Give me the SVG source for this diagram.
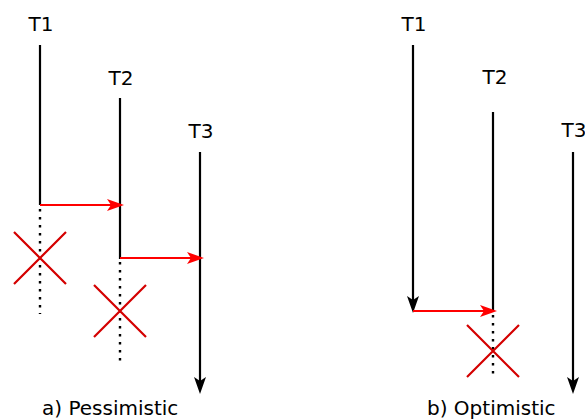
<svg xmlns="http://www.w3.org/2000/svg" width="585" height="420" viewBox="0 0 585 420">
<style>
text{font-family:"DejaVu Sans","Liberation Sans",sans-serif;font-size:20px;fill:#000}
.t{text-anchor:middle}
.life{stroke:#000;stroke-width:2.2;fill:none}
.dot{stroke:#000;stroke-width:2.4;stroke-dasharray:2.4,5.6;fill:none}
.msg{stroke:#f00;stroke-width:2.2;fill:none}
.x{stroke:#d40000;stroke-width:2.2;fill:none}
</style>
<defs>
<marker id="ab" markerUnits="userSpaceOnUse" markerWidth="20" markerHeight="14" viewBox="-8 -7 20 14" refX="0" refY="0" orient="auto"><path d="M10,0 L-7,-6 L-3,0 L-7,6 Z" fill="#000"/></marker>
<marker id="ar" markerUnits="userSpaceOnUse" markerWidth="20" markerHeight="14" viewBox="-8 -7 20 14" refX="0" refY="0" orient="auto"><path d="M10,0 L-7,-6 L-3,0 L-7,6 Z" fill="#f00"/></marker>
</defs>
<g id="pessimistic">
<g id="a-T1"><text class="t" x="41" y="31">T1</text><line class="life" x1="40" y1="45" x2="40" y2="205"/><line class="dot" x1="40" y1="209" x2="40" y2="314"/><path class="x" d="M14,232 L66,284 M66,232 L14,284"/></g>
<g id="a-T2"><text class="t" x="121" y="85">T2</text><line class="life" x1="120" y1="98" x2="120" y2="259"/><line class="dot" x1="120" y1="262" x2="120" y2="366"/><path class="x" d="M94,285 L146,337 M146,285 L94,337"/></g>
<g id="a-T3"><text class="t" x="201" y="138">T3</text><line class="life" x1="200" y1="152" x2="200" y2="384" marker-end="url(#ab)"/></g>
<text id="a-caption" x="42" y="415">a) Pessimistic</text>
</g>
<g id="optimistic">
<g id="b-T1"><text class="t" x="414" y="31">T1</text><line class="life" x1="413" y1="45" x2="413" y2="303" marker-end="url(#ab)"/></g>
<g id="b-T2"><text class="t" x="495" y="84">T2</text><line class="life" x1="493" y1="112" x2="493" y2="311"/><line class="dot" x1="493" y1="315" x2="493" y2="379"/><path class="x" d="M467,325 L519,377 M519,325 L467,377"/></g>
<g id="b-T3"><text class="t" x="574" y="137">T3</text><line class="life" x1="573" y1="152" x2="573" y2="384" marker-end="url(#ab)"/></g>
<text id="b-caption" x="427" y="415">b) Optimistic</text>
</g>
<g id="connectors">
<line class="msg" x1="40" y1="205" x2="114" y2="205" marker-end="url(#ar)"/>
<line class="msg" x1="120" y1="258" x2="194" y2="258" marker-end="url(#ar)"/>
<line class="msg" x1="413" y1="311" x2="487" y2="311" marker-end="url(#ar)"/>
</g>
</svg>
